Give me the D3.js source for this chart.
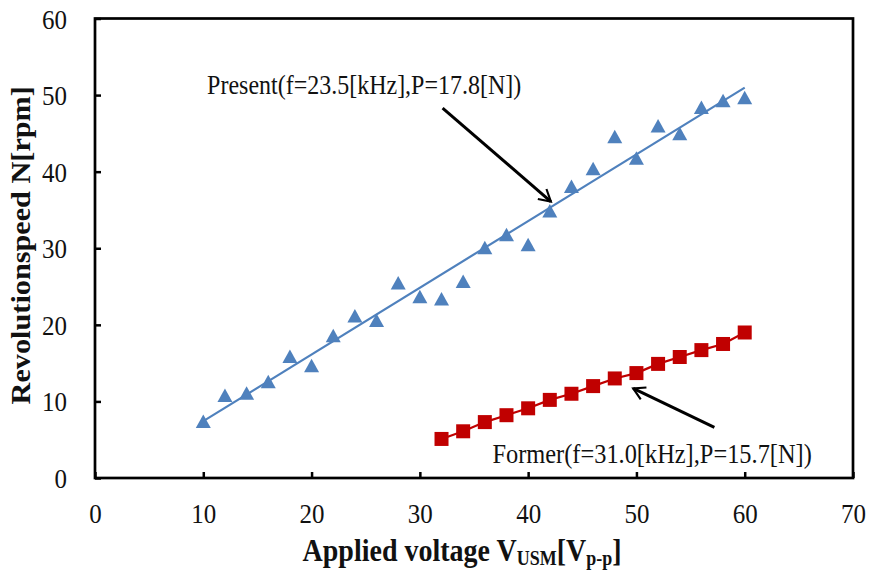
<!DOCTYPE html>
<html>
<head>
<meta charset="utf-8">
<script src="https://cdn.jsdelivr.net/npm/d3@7"></script>
<style>
  body { margin: 0; background: #fff; }
  text { font-family: "Liberation Serif", "Times New Roman", serif; }
</style>
</head>
<body>
<div id="chart"></div>
<script>
// data
var presentV = [10, 12, 14, 16, 18, 20, 22, 24, 26, 28, 30, 32, 34, 36, 38, 40, 42, 44, 46, 48, 50, 52, 54, 56, 58, 60];
var presentN = [7.3, 10.7, 11.0, 12.5, 15.8, 14.6, 18.5, 21.1, 20.5, 25.4, 23.6, 23.3, 25.6, 30.0, 31.7, 30.4, 34.8, 38.0, 40.3, 44.5, 41.7, 45.9, 44.9, 48.3, 49.2, 49.6];
var formerV = [32, 34, 36, 38, 40, 42, 44, 46, 48, 50, 52, 54, 56, 58, 60];
var formerN = [5.1, 6.1, 7.3, 8.2, 9.1, 10.2, 11.0, 12.0, 13.0, 13.7, 14.9, 15.8, 16.7, 17.5, 19.0];
var xTicks = [0, 10, 20, 30, 40, 50, 60, 70];
var yTicks = [0, 10, 20, 30, 40, 50, 60];

// text in the picture is a bit taller than wide
var stretch = 1.12;

var margin = {top: 18.5, right: 16, bottom: 94, left: 95},
    width = 869 - margin.left - margin.right,
    height = 572 - margin.top - margin.bottom;

var svg = d3.select("#chart")
  .append("svg")
    .attr("width", 869)
    .attr("height", 572)
  .append("g")
    .attr("transform", "translate(" + margin.left + "," + margin.top + ")");

var x = d3.scaleLinear().domain([0, 70]).range([0, width]);
var y = d3.scaleLinear().domain([0, 60]).range([height, 0]);

svg.append("defs").append("marker")
  .attr("id", "arrow")
  .attr("viewBox", "0 0 10 10")
  .attr("refX", 8.5).attr("refY", 5)
  .attr("markerWidth", 5.5).attr("markerHeight", 5.5)
  .attr("orient", "auto")
  .append("path")
  .attr("d", "M1.5,1 L8.5,5 L1.5,9")
  .attr("fill", "none")
  .attr("stroke", "#000")
  .attr("stroke-width", 1.3);

// axes, ticks pointing inward
var xAxis = svg.append("g")
  .attr("transform", "translate(0," + height + ")")
  .call(d3.axisBottom(x).tickValues(xTicks).tickSizeInner(-6).tickSizeOuter(0));
var yAxis = svg.append("g")
  .call(d3.axisLeft(y).tickValues(yTicks).tickSizeInner(-6).tickSizeOuter(0));
[xAxis, yAxis].forEach(function(a) {
  a.select(".domain").remove();
  a.selectAll(".tick line").attr("stroke", "#000").attr("stroke-width", 2.5);
  a.selectAll(".tick text")
    .attr("fill", "#111")
    .style("font-size", "25px")
    .style("font-family", "'Liberation Serif', serif");
});
xAxis.selectAll(".tick text")
  .attr("y", 0).attr("dy", 0)
  .attr("transform", "translate(0,45) scale(1," + stretch + ")");
yAxis.selectAll(".tick text")
  .attr("x", 0).attr("dy", "0.34em")
  .attr("transform", "translate(-28,0) scale(1," + stretch + ")");

// frame
svg.append("rect")
  .attr("x", 0).attr("y", 0)
  .attr("width", width).attr("height", height)
  .attr("fill", "none")
  .attr("stroke", "#000")
  .attr("stroke-width", 2.7);

// linear trend of present data
var n = presentV.length,
    mx = d3.mean(presentV), my = d3.mean(presentN);
var sxy = d3.sum(presentV, function(v, i) { return (v - mx) * (presentN[i] - my); });
var sxx = d3.sum(presentV, function(v) { return (v - mx) * (v - mx); });
var slope = sxy / sxx, icpt = my - slope * mx;
var x0 = presentV[0], x1 = presentV[n - 1];
svg.append("line")
  .attr("x1", x(x0)).attr("y1", y(icpt + slope * x0))
  .attr("x2", x(x1)).attr("y2", y(icpt + slope * x1))
  .attr("stroke", "#4F81BD")
  .attr("stroke-width", 2.2);

// former series line
svg.append("path")
  .datum(formerV.map(function(v, i) { return [v, formerN[i]]; }))
  .attr("fill", "none")
  .attr("stroke", "#C00000")
  .attr("stroke-width", 2.2)
  .attr("d", d3.line().x(function(d) { return x(d[0]); }).y(function(d) { return y(d[1]); }));

// markers
svg.append("g")
  .selectAll("path")
  .data(presentV.map(function(v, i) { return [v, presentN[i]]; }))
  .enter().append("path")
    .attr("transform", function(d) { return "translate(" + x(d[0]) + "," + y(d[1]) + ")"; })
    .attr("d", "M0,-7.5 L7.5,6 L-7.5,6 Z")
    .attr("fill", "#4F81BD");

svg.append("g")
  .selectAll("rect")
  .data(formerV.map(function(v, i) { return [v, formerN[i]]; }))
  .enter().append("rect")
    .attr("x", function(d) { return x(d[0]) - 7; })
    .attr("y", function(d) { return y(d[1]) - 7; })
    .attr("width", 14).attr("height", 14)
    .attr("fill", "#C00000");

// helper for stretched text
function label(px, py, str, size) {
  return svg.append("text")
    .attr("transform", "translate(" + px + "," + py + ") scale(1," + stretch + ")")
    .style("font-size", size + "px")
    .attr("fill", "#111")
    .text(str);
}

// annotations
label(x(10.35), y(50.2), "Present(f=23.5[kHz],P=17.8[N])", 24);
svg.append("line")
  .attr("x1", x(32.1)).attr("y1", y(48.3))
  .attr("x2", x(42.1)).attr("y2", y(36.1))
  .attr("stroke", "#000").attr("stroke-width", 3)
  .attr("marker-end", "url(#arrow)");

label(x(36.7), y(1.95), "Former(f=31.0[kHz],P=15.7[N])", 24.4);
svg.append("line")
  .attr("x1", x(57.2)).attr("y1", y(6.6))
  .attr("x2", x(49.7)).attr("y2", y(11.7))
  .attr("stroke", "#000").attr("stroke-width", 3)
  .attr("marker-end", "url(#arrow)");

// axis titles
var xt = svg.append("text")
  .attr("transform", "translate(" + (x(33.9)) + "," + (height + 83) + ") scale(1," + stretch + ")")
  .attr("text-anchor", "middle")
  .attr("fill", "#111")
  .style("font-size", "28px").style("font-weight", "bold");
xt.append("tspan").text("Applied voltage V");
xt.append("tspan").attr("dy", 4).style("font-size", "18px").text("USM");
xt.append("tspan").attr("dy", -4).text("[V");
xt.append("tspan").attr("dy", 4).style("font-size", "18px").text("p-p");
xt.append("tspan").attr("dy", -4).text("]");

svg.append("text")
  .attr("transform", "translate(" + (-65) + "," + (y(30) - 3) + ") scale(1," + stretch + ") rotate(-90)")
  .attr("text-anchor", "middle")
  .attr("fill", "#111")
  .style("font-size", "27px").style("font-weight", "bold")
  .text("Revolutionspeed N[rpm]");
</script>
</body>
</html>
